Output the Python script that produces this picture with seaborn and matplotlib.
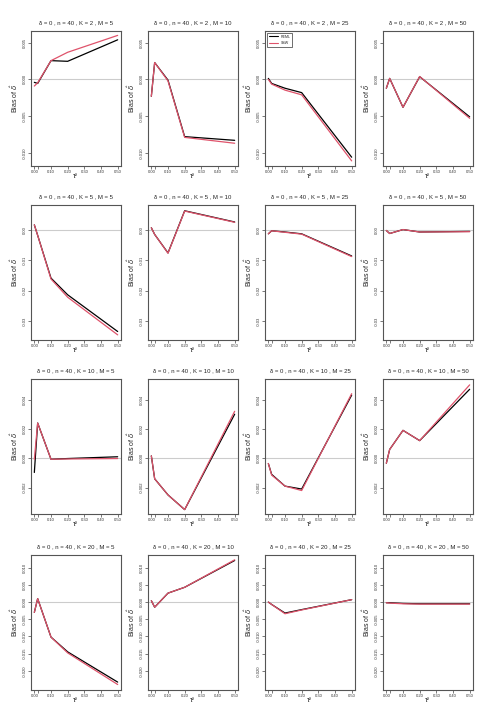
import numpy as np
import pandas as pd
import matplotlib
matplotlib.use("Agg")
import matplotlib.pyplot as plt
import seaborn as sns

# tau^2 grid and simulation settings
tau2 = [0.0, 0.02, 0.1, 0.2, 0.5]
K_values = [2, 5, 10, 20]
M_values = [5, 10, 25, 50]

# bias of delta-hat, one list per M (5, 10, 25, 50)
reml_k2 = [[-0.0004, -0.00055, 0.00256, 0.00247, 0.0054],
           [-0.0023, 0.0023, -0.0001, -0.0078, -0.0083],
           [0.00014, -0.00055, -0.0012, -0.0018, -0.0106],
           [-0.0012, 0.00014, -0.0038, 0.00037, -0.0051]]
ssw_k2 = [[-0.0009, -0.00046, 0.00256, 0.0037, 0.006],
          [-0.0023, 0.0023, -0.0002, -0.0079, -0.0087],
          [0.0000, -0.00064, -0.00146, -0.0021, -0.0111],
          [-0.0012, 0.00014, -0.0038, 0.0004, -0.0053]]
reml_k5 = [[0.00165, -0.0018, -0.0159, -0.0214, -0.0335],
           [0.0007, -0.0015, -0.0076, 0.0063, 0.0026],
           [-0.0013, -0.0003, -0.0007, -0.0013, -0.0086],
           [-0.0002, -0.0012, 0.0001, -0.0007, -0.0005]]
ssw_k5 = [[0.00165, -0.0018, -0.0162, -0.0222, -0.0346],
          [0.0007, -0.0015, -0.0077, 0.0062, 0.0025],
          [-0.0013, -0.0003, -0.0008, -0.0014, -0.0088],
          [-0.0002, -0.0012, 0.0001, -0.0007, -0.0006]]
reml_k10 = [[-0.00097, 0.0024, -0.00007, -0.00002, 0.0001],
            [0.00016, -0.0014, -0.0025, -0.0035, 0.003],
            [-0.00036, -0.0011, -0.0019, -0.0021, 0.0043],
            [-0.00034, 0.0006, 0.0019, 0.0012, 0.0047]]
ssw_k10 = [[-0.00007, 0.0024, -0.00007, -0.00005, -0.00002],
           [0.00016, -0.0014, -0.0025, -0.0035, 0.0032],
           [-0.00036, -0.00115, -0.0019, -0.0022, 0.0044],
           [-0.00034, 0.0006, 0.0019, 0.0012, 0.005]]
reml_k20 = [[-0.003, 0.001, -0.0102, -0.0145, -0.0233],
            [0.0004, -0.0015, 0.0026, 0.0043, 0.0121],
            [0.0, -0.0007, -0.0032, -0.0022, 0.0007],
            [-0.0002, -0.0002, -0.0004, -0.0005, -0.0005]]
ssw_k20 = [[-0.003, 0.001, -0.0102, -0.0148, -0.024],
           [0.0004, -0.0015, 0.0026, 0.0043, 0.0123],
           [0.0, -0.0007, -0.0034, -0.0023, 0.0007],
           [-0.0002, -0.0003, -0.0005, -0.0006, -0.0006]]

reml_rows = [reml_k2, reml_k5, reml_k10, reml_k20]
ssw_rows = [ssw_k2, ssw_k5, ssw_k10, ssw_k20]

# y axis per row (K)
row_ylims = [(-0.0118, 0.0066), (-0.0363, 0.0082), (-0.0038, 0.0054), (-0.0256, 0.0137)]
row_yticks = [[0.005, 0.0, -0.005, -0.010],
              [0.0, -0.01, -0.02, -0.03],
              [0.004, 0.002, 0.0, -0.002],
              [0.010, 0.005, 0.0, -0.005, -0.010, -0.015, -0.020]]
row_ydec = [3, 2, 3, 3]
xticks = [0.0, 0.02, 0.1, 0.2, 0.3, 0.4, 0.5]
xticklabels = ["0.00", "", "0.10", "0.20", "0.30", "0.40", "0.50"]

sns.set_style("white")
plt.rcParams["font.family"] = ["Liberation Sans", "DejaVu Sans"]
plt.rcParams["mathtext.fontset"] = "dejavusans"

palette = {"REML": "black", "SSW": "#DF536B"}

W, H = 495, 726
fig = plt.figure(figsize=(W / 100, H / 100), dpi=100)
lefts = [31, 148, 265, 383]
tops = [31, 205, 379, 555]
pw, ph = 90, 135

for i, K in enumerate(K_values):
    for j, M in enumerate(M_values):
        ax = fig.add_axes([lefts[j] / W, 1 - (tops[i] + ph) / H, pw / W, ph / H])
        df = pd.DataFrame({
            "tau2": tau2 + tau2,
            "bias": reml_rows[i][j] + ssw_rows[i][j],
            "method": ["REML"] * len(tau2) + ["SSW"] * len(tau2),
        })
        ax.axhline(0, color="#cccccc", lw=0.8, zorder=0)
        show_leg = (K == 2 and M == 25)
        sns.lineplot(data=df, x="tau2", y="bias", hue="method", palette=palette,
                     hue_order=["REML", "SSW"], linewidth=0.9, ax=ax,
                     legend=show_leg, errorbar=None, sort=False)
        ax.set_xlim(-0.02, 0.52)
        ax.set_ylim(*row_ylims[i])
        ax.set_xticks(xticks)
        ax.set_xticklabels(xticklabels)
        yt = row_yticks[i]
        ax.set_yticks(yt)
        ax.set_yticklabels([f"{v:.{row_ydec[i]}f}" for v in yt], rotation=90, va="center")
        ax.tick_params(axis="both", direction="out", length=2, width=0.5,
                       labelsize=3, pad=1, color="#444444", labelcolor="#333333")
        ax.tick_params(axis="x", bottom=True)
        ax.tick_params(axis="y", left=True)
        for s in ax.spines.values():
            s.set_color("#555555")
            s.set_linewidth(0.8)
        ax.set_title(f"δ = 0 , n = 40 , K = {K} , M = {M}", fontsize=4.3, pad=5)
        ax.set_xlabel("τ²", fontsize=5, labelpad=-1)
        ax.set_ylabel(r"Bias of $\hat{\delta}$", fontsize=5)
        ax.yaxis.set_label_coords(-11 / pw, 0.5)
        if show_leg:
            leg = ax.legend(loc="upper left", fontsize=2.6, frameon=True, fancybox=False,
                            edgecolor="black", handlelength=2.5, borderpad=0.5,
                            labelspacing=0.6)
            leg.get_frame().set_linewidth(0.5)
            for line in leg.get_lines():
                line.set_linewidth(0.8)

fig.savefig("out.png", dpi=100)
